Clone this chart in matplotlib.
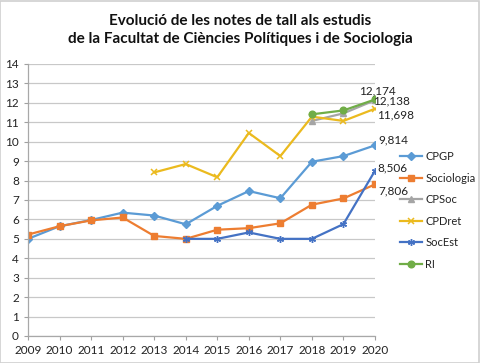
import matplotlib
matplotlib.use("Agg")
import matplotlib.pyplot as plt
from matplotlib.patches import Rectangle

plt.rcParams['font.family'] = ['Lato', 'DejaVu Sans']

years = list(range(2009, 2021))

cpgp = [5.0, 5.65, 5.97, 6.35, 6.2, 5.75, 6.7, 7.46, 7.09, 8.97, 9.26, 9.814]
sociologia = [5.22, 5.65, 5.95, 6.1, 5.15, 5.0, 5.47, 5.55, 5.8, 6.76, 7.08, 7.806]
cpsoc_years = [2018, 2019, 2020]
cpsoc = [11.07, 11.46, 12.138]
cpdret_years = list(range(2013, 2021))
cpdret = [8.42, 8.85, 8.17, 10.45, 9.26, 11.29, 11.07, 11.698]
socest_years = list(range(2014, 2021))
socest = [5.0, 5.0, 5.33, 5.0, 5.0, 5.76, 8.506]
ri_years = [2018, 2019, 2020]
ri = [11.41, 11.61, 12.174]

title = "Evolució de les notes de tall als estudis\nde la Facultat de Ciències Polítiques i de Sociologia"

fig = plt.figure(figsize=(4.8, 3.63), dpi=100)
ax = fig.add_axes([28 / 480, 1 - 336 / 363, (375 - 28) / 480, (336 - 64) / 363])

lw = 1.6
ax.plot(years, cpgp, color='#5B9BD5', marker='D', markersize=3.8, lw=lw, label='CPGP')
ax.plot(years, sociologia, color='#ED7D31', marker='s', markersize=5, lw=lw, label='Sociologia')
ax.plot(cpsoc_years, cpsoc, color='#A5A5A5', marker='^', markersize=5, lw=lw, label='CPSoc')
ax.plot(cpdret_years, cpdret, color='#EBBA1E', marker='x', markersize=4.5, mew=1.1, lw=lw, label='CPDret')
ax.plot(socest_years, socest, color='#4472C4', marker=(6, 2, 0), markersize=5, mew=1.0, lw=lw, label='SocEst')
ax.plot(ri_years, ri, color='#70AD47', marker='o', markersize=4.8, lw=lw, label='RI')

# data labels for 2020
def lab(val, dx, dy, ha='left', va='center'):
    ax.annotate(f"{val:.3f}".replace('.', ','), (2020, val), xytext=(dx, dy),
                textcoords='offset pixels', ha=ha, va=va, fontsize=8.5,
                color='#222222', annotation_clip=False)

lab(ri[-1], 2, 3, ha='center', va='bottom')
lab(cpsoc[-1], -2, -1)
lab(cpdret[-1], 2, -6)
lab(cpgp[-1], 3, 5)
lab(socest[-1], 2, 3)
lab(sociologia[-1], 3, -7)

ax.set_xlim(2009, 2020)
ax.set_ylim(0, 14)
ax.set_xticks(years)
ax.set_yticks(range(0, 15))
ax.tick_params(axis='both', labelsize=8.5, colors='#222222', length=3, width=0.8)
ax.tick_params(axis='both', color='#A0A0A0')
ax.grid(axis='y', color='#C8C8C8', lw=0.9)
ax.set_axisbelow(True)
for s in ['top', 'right']:
    ax.spines[s].set_visible(False)
for s in ['left', 'bottom']:
    ax.spines[s].set_color('#A8A8A8')
    ax.spines[s].set_linewidth(0.9)

fig.text(0.5, 1 - 30 / 363, title, ha='center', va='center', fontsize=11,
         fontweight='bold', color='#111111', linespacing=1.35)

leg = ax.legend(loc='upper left', bbox_to_anchor=(400 / 480, 1 - 151 / 363),
                bbox_transform=fig.transFigure, frameon=False, fontsize=8,
                handlelength=2.0, handletextpad=0.27, labelspacing=0.95,
                borderaxespad=0, borderpad=0)
for t in leg.get_texts():
    t.set_color('#222222')

fig.patches.append(Rectangle((0.001, 0.001), 0.997, 0.997, transform=fig.transFigure,
                             fill=False, edgecolor='#D0D0D0', lw=1.2))

fig.savefig('out.png', dpi=100)
